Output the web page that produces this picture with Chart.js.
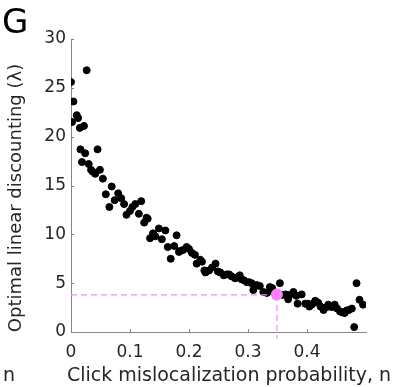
<!DOCTYPE html>
<html>
<head>
<meta charset="utf-8">
<script src="https://cdn.jsdelivr.net/npm/chart.js@4.4.1/dist/chart.umd.min.js"></script>
<style>
  html, body { margin: 0; padding: 0; background: #fff; }
  #wrap { width: 398px; height: 387px; position: relative; }
</style>
</head>
<body>
<div id="wrap"><canvas id="discountChart"></canvas></div>
<script>
// Probabilité de mauvaise localisation du clic (axe x)
const mislocProb = [
  0.000, 0.0017, 0.004, 0.0097, 0.012, 0.015, 0.016, 0.0186, 0.022, 0.024,
  0.0266, 0.030, 0.034, 0.037, 0.041, 0.045, 0.049, 0.054, 0.059, 0.065,
  0.069, 0.074, 0.080, 0.085, 0.090, 0.094, 0.100, 0.104, 0.109, 0.115,
  0.119, 0.124, 0.128, 0.130, 0.134, 0.139, 0.143, 0.149, 0.154, 0.160,
  0.164, 0.169, 0.175, 0.179, 0.183, 0.185, 0.190, 0.196, 0.200, 0.205,
  0.210, 0.213, 0.219, 0.222, 0.226, 0.228, 0.234, 0.239, 0.245, 0.249,
  0.253, 0.259, 0.264, 0.268, 0.272, 0.278, 0.282, 0.286, 0.289, 0.293,
  0.298, 0.302, 0.306, 0.309, 0.315, 0.320, 0.326, 0.332, 0.337, 0.341,
  0.344, 0.347, 0.354, 0.358, 0.364, 0.368, 0.371, 0.377, 0.382, 0.384,
  0.391, 0.397, 0.402, 0.404, 0.408, 0.412, 0.414, 0.419, 0.423, 0.428,
  0.432, 0.436, 0.442, 0.447, 0.451, 0.456, 0.460, 0.464, 0.467, 0.471,
  0.476, 0.480, 0.484, 0.489, 0.495
];
// Discount linéaire optimal (lambda)
const lambdaOpt = [
  25.6, 21.5, 23.6, 22.2, 21.9, 20.9, 18.7, 17.4, 21.1, 18.3,
  26.8, 17.2, 16.6, 16.4, 16.2, 18.7, 16.6, 15.7, 14.1, 12.8,
  14.9, 13.5, 14.2, 13.7, 13.1, 12.0, 12.4, 12.8, 13.1, 12.1,
  13.4, 11.2, 11.7, 11.6, 9.6, 10.1, 9.8, 10.6, 9.5, 10.4,
  8.7, 7.5, 8.8, 9.9, 8.2, 8.3, 8.4, 8.7, 8.5, 8.1,
  7.9, 7.0, 7.4, 7.2, 6.3, 6.1, 6.3, 6.6, 7.0, 6.2,
  6.1, 5.8, 5.9, 5.9, 5.7, 5.5, 5.6, 5.8, 5.4, 5.3,
  5.1, 5.1, 5.0, 4.3, 4.8, 4.7, 4.1, 4.0, 4.6, 4.5,
  4.0, 3.7, 5.0, 3.8, 3.85, 3.35, 3.8, 4.1, 3.7, 2.9,
  3.85, 2.9, 2.9, 2.6, 2.8, 3.0, 3.2, 3.0, 2.6, 2.25,
  2.5, 2.8, 2.55, 2.8, 2.4, 2.1, 2.0, 1.95, 2.2, 2.25,
  2.4, 0.5, 5.0, 3.3, 2.8
];
// Point optimal (marqueur rose)
const optimumX = [0.349];
const optimumY = [3.85];
// Graduations
const xTicks = [0, 0.1, 0.2, 0.3, 0.4];
const yTicks = [0, 5, 10, 15, 20, 25, 30];

const PINK = '#ff80ff';
const FONT = '"DejaVu Sans", sans-serif';

const points = mislocProb.map((x, i) => ({ x: x, y: lambdaOpt[i] }));

// Textes, titres et graduations intérieures (style MATLAB)
const decorPlugin = {
  id: 'decor',
  afterDraw(chart) {
    const ctx = chart.ctx;
    const xs = chart.scales.x, ys = chart.scales.y;
    const area = chart.chartArea;
    ctx.save();
    ctx.strokeStyle = '#858585';
    ctx.lineWidth = 1;
    ctx.beginPath();
    xTicks.forEach(v => {
      const px = Math.round(xs.getPixelForValue(v)) + 0.5;
      ctx.moveTo(px, area.bottom);
      ctx.lineTo(px, area.bottom - 3);
    });
    yTicks.forEach(v => {
      const py = Math.round(ys.getPixelForValue(v)) + 0.5;
      ctx.moveTo(area.left, py);
      ctx.lineTo(area.left + 3, py);
    });
    ctx.stroke();

    ctx.fillStyle = '#262626';
    ctx.font = '19px ' + FONT;
    ctx.textAlign = 'center';
    ctx.textBaseline = 'middle';
    ctx.fillText('Click mislocalization probability, n', 229, 376);
    ctx.fillText('n', 9, 376);

    ctx.save();
    ctx.translate(16, 198);
    ctx.rotate(-Math.PI / 2);
    ctx.font = '18px ' + FONT;
    ctx.fillText('Optimal linear discounting (\u03BB)', 0, 0);
    ctx.restore();

    ctx.fillStyle = '#000';
    ctx.font = '34px ' + FONT;
    ctx.textAlign = 'left';
    ctx.textBaseline = 'alphabetic';
    ctx.fillText('G', 2, 33);
    ctx.restore();
  }
};

new Chart(document.getElementById('discountChart'), {
  type: 'scatter',
  data: {
    datasets: [
      {
        data: points,
        backgroundColor: '#000',
        borderColor: '#000',
        pointRadius: 3.5,
        pointHoverRadius: 3.5,
        order: 3
      },
      {
        type: 'line',
        data: [{ x: 0, y: optimumY[0] - 0.05 }, { x: optimumX[0], y: optimumY[0] - 0.05 }],
        borderColor: PINK,
        borderWidth: 1.2,
        borderDash: [6, 4],
        pointRadius: 0,
        fill: false,
        order: 2
      },
      {
        type: 'line',
        data: [{ x: optimumX[0], y: optimumY[0] - 0.05 }, { x: optimumX[0], y: -0.7 }],
        borderColor: PINK,
        borderWidth: 1.2,
        borderDash: [6, 4],
        pointRadius: 0,
        fill: false,
        clip: false,
        order: 2
      },
      {
        data: optimumX.map((x, i) => ({ x: x, y: optimumY[i] })),
        backgroundColor: PINK,
        borderColor: PINK,
        pointRadius: 5.5,
        order: 1
      }
    ]
  },
  options: {
    responsive: true,
    maintainAspectRatio: false,
    animation: false,
    events: [],
    layout: { padding: { top: 39, right: 32, left: 0, bottom: 0 } },
    plugins: {
      legend: { display: false },
      tooltip: { enabled: false }
    },
    scales: {
      x: {
        type: 'linear',
        min: 0,
        max: 0.5,
        afterFit(scale) { scale.height = 55; },
        afterBuildTicks(scale) { scale.ticks = xTicks.map(v => ({ value: v })); },
        grid: { display: false, drawTicks: false },
        border: { display: true, color: '#858585', width: 1 },
        ticks: {
          padding: 10,
          color: '#262626',
          font: { family: FONT, size: 17 },
          maxRotation: 0,
          callback: v => (v === 0 ? '0' : v.toFixed(1))
        }
      },
      y: {
        min: 0,
        max: 30,
        afterFit(scale) { scale.width = 71; },
        afterBuildTicks(scale) { scale.ticks = yTicks.map(v => ({ value: v })); },
        grid: { display: false, drawTicks: false },
        border: { display: true, color: '#858585', width: 1 },
        ticks: {
          padding: 5,
          color: '#262626',
          font: { family: FONT, size: 17 },
          callback: v => String(v)
        }
      }
    }
  },
  plugins: [decorPlugin]
});
</script>
</body>
</html>
